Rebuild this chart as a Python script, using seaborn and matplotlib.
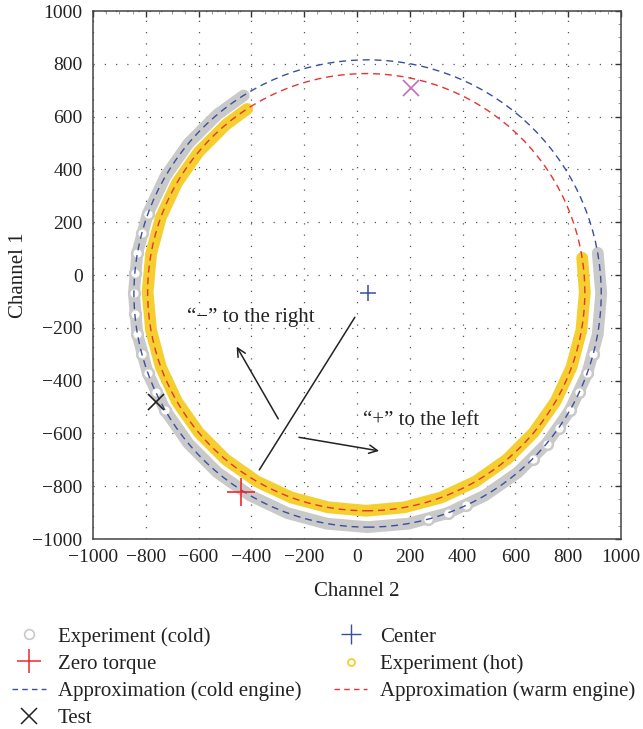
import seaborn as sns
import matplotlib.pyplot as plt
from matplotlib.patches import Circle
from matplotlib.lines import Line2D
from matplotlib.ticker import MultipleLocator

# ---- data ----
cold_x = [-429, -529, -638, -726, -792, -832, -845, -832, -792, -726, -638, -529, -403,
          -263, -114, 40, 194, 343, 483, 609, 718, 806, 872, 912, 925, 912]
cold_y = [680, 608, 499, 373, 233, 84, -70, -224, -373, -513, -639, -748, -836,
          -902, -942, -955, -942, -902, -836, -748, -639, -513, -373, -224, -70, 84]
hot_x = [-416, -497, -599, -682, -743, -780, -793, -780, -743, -682, -599, -497, -379,
         -248, -109, 35, 179, 318, 449, 567, 669, 752, 813, 850, 863, 853]
hot_y = [629, 569, 467, 349, 218, 79, -65, -209, -348, -479, -597, -699, -782,
         -843, -880, -893, -880, -843, -782, -699, -597, -479, -348, -209, -65, 65]
# stretches where single cold samples stand out as open circles
cold_open_x = [-792, -815, -832, -842, -845, -842, -832, -815, -792, -762, -726,
               269, 343, 414, 666, 718, 765, 806, 842, 872, 895]
cold_open_y = [233, 159, 84, 7, -70, -147, -224, -299, -373, -444, -513,
               -925, -902, -872, -696, -639, -578, -513, -444, -373, -299]

cold_center, cold_radius = (40, -70), 885
warm_center, warm_radius = (35, -65), 828
center_pt = (40, -70)
zero_torque = (-438, -821)
test_pt = (-760, -480)
test2_pt = (206, 710)

# guide line and the two arrows
guide_x = [-370, -8]
guide_y = [-738, -160]
arrow_minus = ((-293, -554), (-461, -262))
arrow_plus = ((-230, -613), (94, -668))

sns.set_theme(style="white")
plt.rcParams['font.family'] = ['Liberation Serif', 'DejaVu Serif']

gray = "#c9c9c9"
yellow = "#f5cf2f"
blue = "#3a4f9e"
red = "#e8332f"
ink = "#222222"

fig = plt.figure(figsize=(6.43, 7.29), dpi=100)
ax = fig.add_axes([0.1446, 0.2606, 0.8212, 0.7243])

# experiment bands
sns.lineplot(x=cold_x, y=cold_y, sort=False, estimator=None, ax=ax, color=gray, lw=8.5,
             solid_capstyle='round', zorder=2)
sns.scatterplot(x=cold_open_x, y=cold_open_y, ax=ax, marker='o', s=60, facecolor='white',
                edgecolor=gray, linewidth=1.8, zorder=2.1)
sns.lineplot(x=hot_x, y=hot_y, sort=False, estimator=None, ax=ax, color=yellow, lw=8.5,
             solid_capstyle='round', zorder=3)

# fitted approximations
ax.add_patch(Circle(cold_center, cold_radius, fill=False, ls=(0, (5, 3.5)),
                    lw=1.0, ec=blue, zorder=4))
ax.add_patch(Circle(warm_center, warm_radius, fill=False, ls=(0, (5, 3.5)),
                    lw=1.0, ec=red, zorder=4))

# markers
ax.plot(*center_pt, marker='+', ms=12, mew=1.1, color=blue, ls='none', zorder=5)
ax.plot(*zero_torque, marker='+', ms=20, mew=1.2, color="#f0282a", ls='none', zorder=5)
ax.plot(*test_pt, marker='x', ms=12, mew=1.2, color=ink, ls='none', zorder=5)
ax.plot(*test2_pt, marker='x', ms=12, mew=1.2, color='#c66bbd', ls='none', zorder=5)

# annotations
ax.plot(guide_x, guide_y, color=ink, lw=1.1, zorder=5)
for (x0, y0), (x1, y1) in [arrow_minus, arrow_plus]:
    ax.annotate('', xy=(x1, y1), xytext=(x0, y0),
                arrowprops=dict(arrowstyle='->', color=ink, lw=1.1,
                                mutation_scale=15), zorder=5)
ax.text(-644, -160, "\u201c\u2212\u201d to the right", fontsize=15, va='center',
        ha='left', color=ink)
ax.text(23, -552, "\u201c+\u201d to the left", fontsize=15, va='center',
        ha='left', color=ink)

# axes styling
ax.set_xlim(-1000, 1000)
ax.set_ylim(-1000, 1000)
ax.xaxis.set_major_locator(MultipleLocator(200))
ax.yaxis.set_major_locator(MultipleLocator(200))
ax.xaxis.set_minor_locator(MultipleLocator(50))
ax.yaxis.set_minor_locator(MultipleLocator(50))
ax.tick_params(which='major', direction='in', length=4, width=1, top=True, right=True,
               labelsize=14, colors='#333333', labelcolor=ink, pad=7.5)
ax.tick_params(which='minor', direction='in', length=2, width=0.6, top=True, right=True,
               colors='#888888')
ax.grid(True, which='major', ls=(0, (1, 8)), lw=0.9, color='#555555')
for sp in ax.spines.values():
    sp.set_color('#444444')
    sp.set_linewidth(1.1)
ax.set_xlabel('Channel 2', fontsize=15, color=ink, labelpad=11)
ax.set_ylabel('Channel 1', fontsize=15, color=ink, labelpad=3)

# legend
handles = [
    Line2D([], [], ls='none', marker='o', ms=7, mfc='none', mec=gray, mew=1.2),
    Line2D([], [], ls='none', marker='+', ms=17, mew=1.1, color="#f0282a"),
    Line2D([], [], ls=(0, (4, 3)), lw=1.0, color=blue),
    Line2D([], [], ls='none', marker='x', ms=12, mew=1.1, color=ink),
    Line2D([], [], ls='none', marker='+', ms=14, mew=1.0, color=blue),
    Line2D([], [], ls='none', marker='o', ms=5, mfc='none', mec=yellow, mew=1.3),
    Line2D([], [], ls=(0, (4, 3)), lw=1.0, color=red),
]
labels = ['Experiment (cold)', 'Zero torque', 'Approximation (cold engine)', 'Test',
          'Center', 'Experiment (hot)', 'Approximation (warm engine)']
fig.legend(handles, labels, loc='upper left', bbox_to_anchor=(0.019, 0.140), ncol=2,
           frameon=False, fontsize=15, handlelength=1.6, labelspacing=0.36,
           columnspacing=1.55, handletextpad=0.6, borderpad=0, borderaxespad=0,
           labelcolor=ink)

fig.savefig('out.png', dpi=100)
